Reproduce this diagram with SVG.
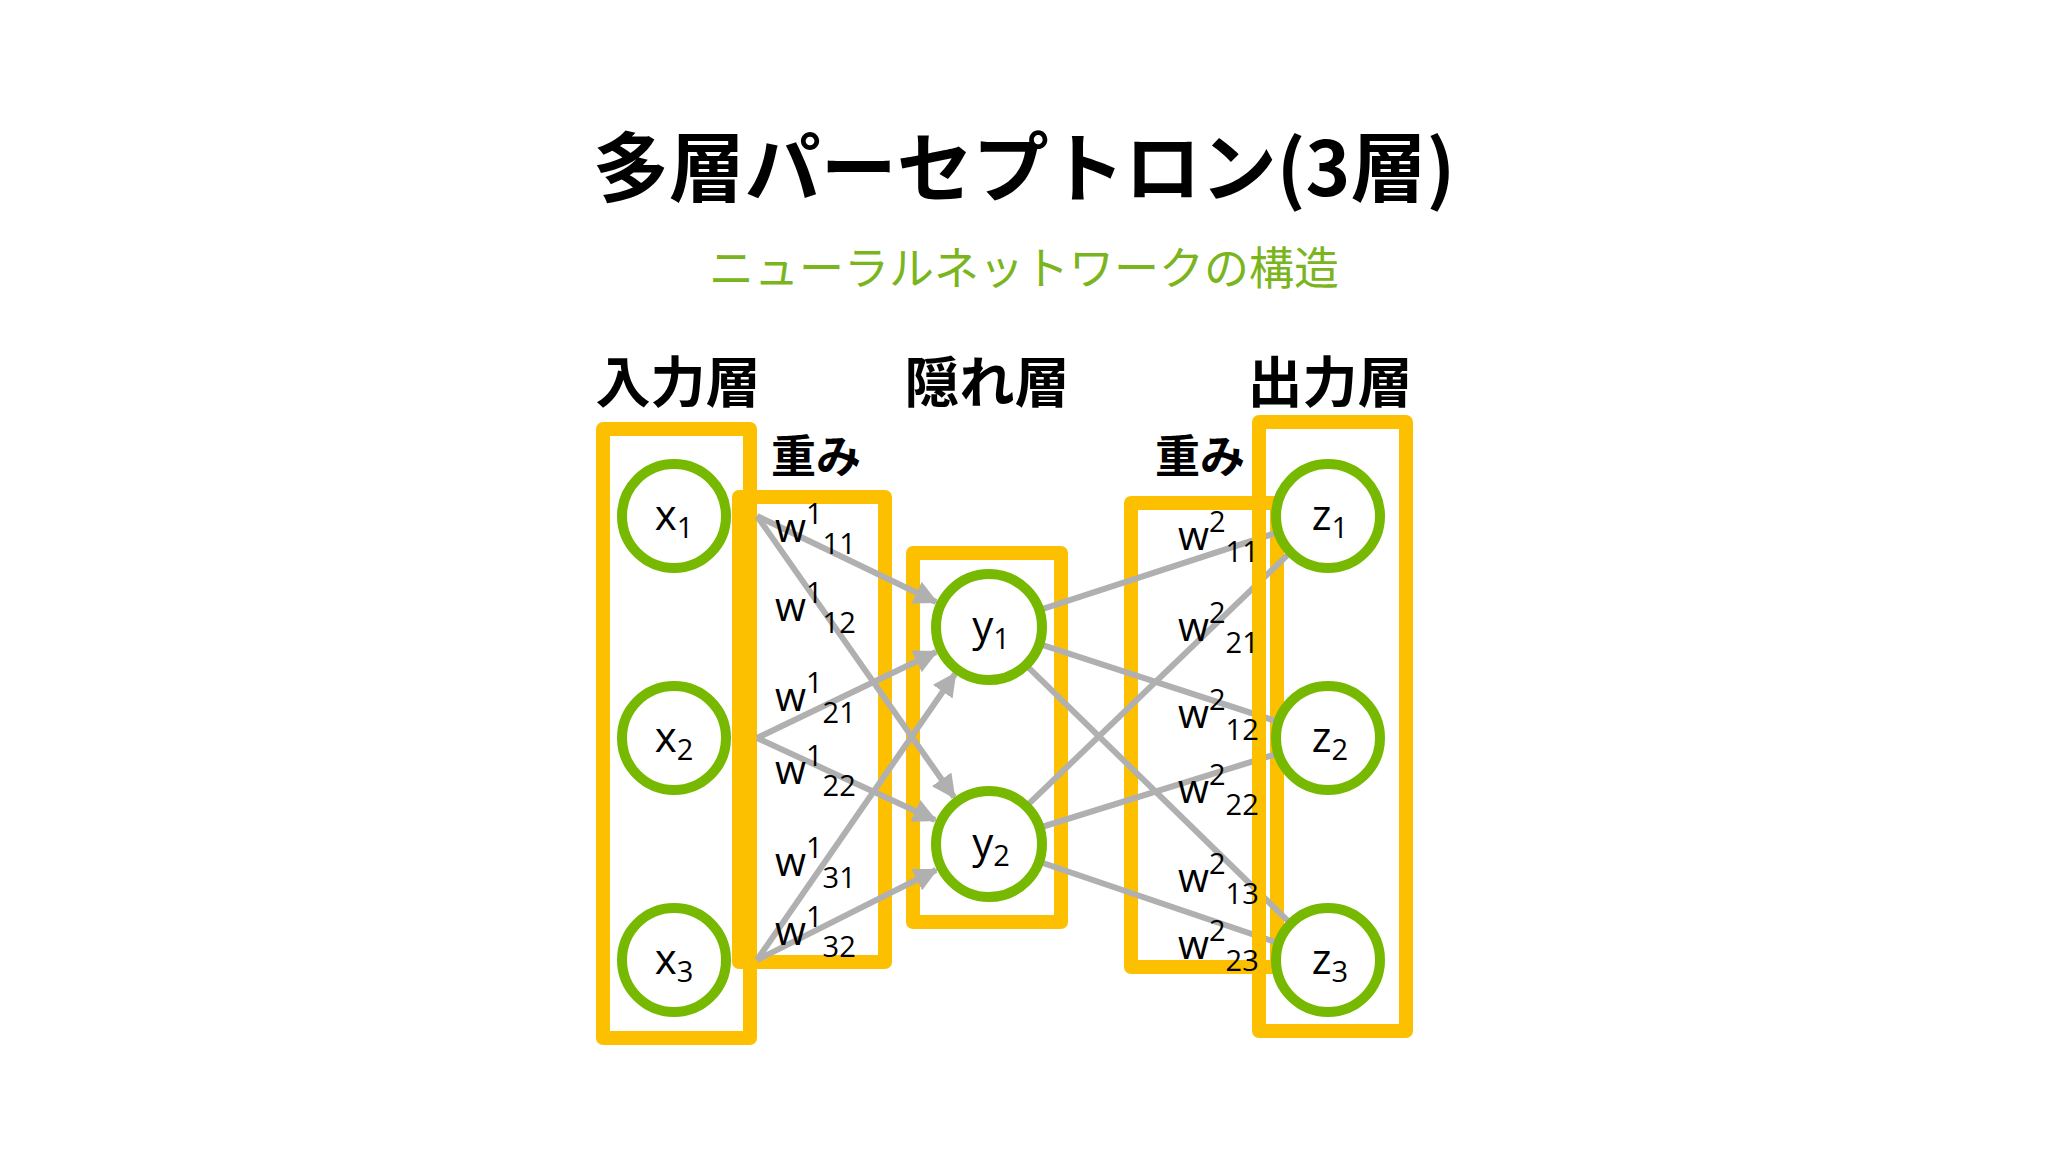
<svg xmlns="http://www.w3.org/2000/svg" width="2048" height="1152" viewBox="0 0 2048 1152">
<defs>
<style>
.box{fill:none;stroke:#fdc000;stroke-width:14;stroke-linejoin:round}
.node{fill:#fff;stroke:#76b900;stroke-width:10}
.lbl{font-family:"Open Sans","Noto Sans",sans-serif;font-size:42px;fill:#000;text-anchor:middle}
.w{font-family:"Open Sans","Noto Sans",sans-serif;font-size:40px;fill:#000}
.s{font-size:29px}
.h{font-family:"Noto Sans CJK JP",sans-serif;font-weight:bold;fill:#000;text-anchor:middle}
.ln{stroke:#b0b0b0;stroke-width:6;fill:none}
</style>
<marker id="ah" viewBox="0 0 10 10" refX="9" refY="5" markerWidth="4" markerHeight="4" orient="auto" markerUnits="strokeWidth"><path d="M0,0L10,5L0,10z" fill="#b0b0b0"/></marker>
</defs>
<rect width="2048" height="1152" fill="#fff"/>
<text class="h" x="1024" y="196" font-size="76">多層パーセプトロン(3層)</text>
<text x="1024" y="285" font-size="45" fill="#7ab51d" text-anchor="middle" font-family="Noto Sans CJK JP,sans-serif">ニューラルネットワークの構造</text>
<text class="h" x="678" y="402" font-size="55">入力層</text>
<text class="h" x="987" y="402" font-size="55">隠れ層</text>
<text class="h" x="1330" y="402" font-size="55">出力層</text>
<text class="h" x="816" y="473" font-size="45">重み</text>
<text class="h" x="1200" y="473" font-size="45">重み</text>
<g id="box-input"><rect class="box" x="603" y="429" width="147" height="609"/></g>
<g id="box-w1"><rect class="box" x="739" y="497" width="146" height="465"/></g>
<g id="box-hidden"><rect class="box" x="913" y="553" width="148" height="369"/></g>
<g id="box-w2"><rect class="box" x="1131" y="503" width="146" height="464"/></g>
<g id="connectors">
<line class="ln" x1="757" y1="516" x2="936" y2="602" marker-end="url(#ah)"/>
<line class="ln" x1="757" y1="516" x2="954" y2="797" marker-end="url(#ah)"/>
<line class="ln" x1="757" y1="738" x2="936" y2="652" marker-end="url(#ah)"/>
<line class="ln" x1="757" y1="738" x2="935" y2="820" marker-end="url(#ah)"/>
<line class="ln" x1="757" y1="960" x2="955" y2="674" marker-end="url(#ah)"/>
<line class="ln" x1="757" y1="960" x2="936" y2="870" marker-end="url(#ah)"/>
<line class="ln" x1="987" y1="627" x2="1328" y2="516"/>
<line class="ln" x1="987" y1="627" x2="1328" y2="738"/>
<line class="ln" x1="987" y1="627" x2="1328" y2="960"/>
<line class="ln" x1="987" y1="844" x2="1328" y2="516"/>
<line class="ln" x1="987" y1="844" x2="1328" y2="738"/>
<line class="ln" x1="987" y1="844" x2="1328" y2="960"/>
</g>
<g id="box-output"><rect class="box" x="1259" y="422" width="147" height="609"/></g>
<g id="x1"><circle class="node" cx="674" cy="516" r="52"/><text class="lbl" x="674" y="530">x<tspan class="s" dy="8">1</tspan></text></g>
<g id="x2"><circle class="node" cx="674" cy="738" r="52"/><text class="lbl" x="674" y="752">x<tspan class="s" dy="8">2</tspan></text></g>
<g id="x3"><circle class="node" cx="674" cy="960" r="52"/><text class="lbl" x="674" y="974">x<tspan class="s" dy="8">3</tspan></text></g>
<g id="y1"><circle class="node" cx="989" cy="627" r="53"/><text class="lbl" x="991" y="641">y<tspan class="s" dy="8">1</tspan></text></g>
<g id="y2"><circle class="node" cx="989" cy="844" r="53"/><text class="lbl" x="991" y="858">y<tspan class="s" dy="8">2</tspan></text></g>
<g id="z1"><circle class="node" cx="1328" cy="516" r="52"/><text class="lbl" x="1330" y="530">z<tspan class="s" dy="8">1</tspan></text></g>
<g id="z2"><circle class="node" cx="1328" cy="738" r="52"/><text class="lbl" x="1330" y="752">z<tspan class="s" dy="8">2</tspan></text></g>
<g id="z3"><circle class="node" cx="1328" cy="960" r="52"/><text class="lbl" x="1330" y="974">z<tspan class="s" dy="8">3</tspan></text></g>
<g id="weights1">
<text class="w" x="775" y="542">w<tspan class="s" dy="-18">1</tspan><tspan class="s" dy="30">11</tspan></text>
<text class="w" x="775" y="621">w<tspan class="s" dy="-18">1</tspan><tspan class="s" dy="30">12</tspan></text>
<text class="w" x="775" y="711">w<tspan class="s" dy="-18">1</tspan><tspan class="s" dy="30">21</tspan></text>
<text class="w" x="775" y="784">w<tspan class="s" dy="-18">1</tspan><tspan class="s" dy="30">22</tspan></text>
<text class="w" x="775" y="876">w<tspan class="s" dy="-18">1</tspan><tspan class="s" dy="30">31</tspan></text>
<text class="w" x="775" y="945">w<tspan class="s" dy="-18">1</tspan><tspan class="s" dy="30">32</tspan></text>
</g>
<g id="weights2">
<text class="w" x="1178" y="550">w<tspan class="s" dy="-18">2</tspan><tspan class="s" dy="30">11</tspan></text>
<text class="w" x="1178" y="641">w<tspan class="s" dy="-18">2</tspan><tspan class="s" dy="30">21</tspan></text>
<text class="w" x="1178" y="728">w<tspan class="s" dy="-18">2</tspan><tspan class="s" dy="30">12</tspan></text>
<text class="w" x="1178" y="803">w<tspan class="s" dy="-18">2</tspan><tspan class="s" dy="30">22</tspan></text>
<text class="w" x="1178" y="892">w<tspan class="s" dy="-18">2</tspan><tspan class="s" dy="30">13</tspan></text>
<text class="w" x="1178" y="959">w<tspan class="s" dy="-18">2</tspan><tspan class="s" dy="30">23</tspan></text>
</g>
</svg>
